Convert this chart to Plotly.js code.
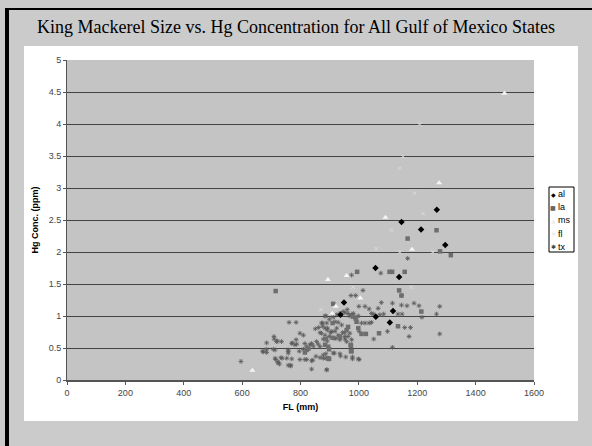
<!DOCTYPE html>
<html><head><meta charset="utf-8">
<script src="https://cdn.plot.ly/plotly-3.0.1.min.js"></script>
<style>body{margin:0;padding:0;background:#fff}#chart{width:592px;height:446px}</style>
</head><body><div id="chart"></div>
<script>
// ---- data (FL in mm, Hg in ppm) ----
const seriesNames = ["al", "la", "ms", "fl", "tx"];

const alFL = [1267, 1146, 1213, 1296, 1057, 1138, 949, 937, 1117, 1058, 1106];
const alHg = [2.66, 2.47, 2.35, 2.11, 1.75, 1.61, 1.21, 1.02, 1.08, 0.99, 0.90];

const laFL = [1266, 1167, 1278, 1315, 994, 1105, 1114, 1157, 1138, 1146, 715, 912, 1214, 980, 989, 992, 1134, 1009, 1024, 1069,
              821, 815, 827, 895, 898, 973, 973, 898, 935, 958, 963, 998, 910, 887, 910, 884, 972, 975, 895, 935];
const laHg = [2.34, 2.21, 2.01, 1.95, 1.69, 1.69, 1.69, 1.69, 1.40, 1.32, 1.39, 1.19, 1.07, 0.99, 0.96, 0.91, 0.84, 0.72, 0.72, 0.73,
              0.47, 0.43, 0.49, 0.52, 0.48, 0.53, 0.45, 0.33, 0.67, 0.78, 0.83, 0.81, 0.89, 0.64, 0.66, 0.55, 0.55, 0.45, 0.34, 0.68];

const msFL = [1499, 1275, 1091, 1182, 894, 958, 1005, 921, 909, 635];
const msHg = [4.48, 3.08, 2.54, 2.04, 1.57, 1.63, 1.28, 1.15, 1.04, 0.15];

const flFL = [1208, 1151, 1191, 1140, 1220, 1112, 1140, 1253, 1060, 980, 1180, 870];
const flHg = [4.00, 3.49, 2.92, 3.31, 2.60, 2.34, 2.00, 2.00, 2.05, 1.45, 1.45, 1.10];

const txFL = [1167, 1075, 975, 1014, 973, 989, 1146, 1000, 1021, 1077, 1115, 1146, 1165, 1189, 1206, 1035, 1066, 1043, 1051, 1072,
              1085, 1134, 1148, 884, 952, 963, 975, 1009, 1021, 1035, 1043, 1157, 1177, 1001, 1098, 1172, 1051, 1115, 1277, 1216,
              1266, 1277,
              761, 785, 887, 872, 862, 851, 798, 810, 709, 718, 735, 684, 785, 770, 787, 684, 673, 713, 758, 758,
              715, 724, 737, 753, 770, 596, 758, 767, 798, 815, 838, 838, 890, 887,
              876, 710, 721, 670, 684, 707, 758, 772, 781, 796, 810, 713, 733, 722, 728, 766, 821, 842, 853, 867,
              895, 815, 821, 832, 838, 844, 855, 861, 867, 872, 884, 892, 899, 907, 915, 924, 929, 935, 944, 952,
              958, 876, 899, 912, 924, 935, 946, 960, 969, 981, 986, 998, 916, 935, 955, 978, 998, 887,
              890, 884, 893, 918, 929, 941, 867, 903, 918, 952, 969, 921, 952, 963, 975, 878, 892, 878, 878, 912,
              937, 978, 1001, 890];
const txHg = [1.90, 1.67, 1.64, 1.40, 1.32, 1.32, 1.32, 1.15, 1.15, 1.21, 1.20, 1.17, 1.16, 1.20, 1.16, 1.11, 1.12, 1.04, 1.03, 1.02,
              1.03, 1.03, 1.03, 1.00, 1.05, 1.04, 1.02, 0.89, 0.89, 0.89, 0.90, 0.82, 0.82, 0.76, 0.76, 0.68, 0.64, 0.51, 1.15, 0.98,
              1.03, 0.72,
              0.90, 0.90, 1.00, 0.89, 0.82, 0.80, 0.73, 0.70, 0.68, 0.60, 0.60, 0.58, 0.63, 0.57, 0.56, 0.48, 0.44, 0.47, 0.45, 0.42,
              0.32, 0.28, 0.34, 0.34, 0.33, 0.29, 0.23, 0.23, 0.32, 0.32, 0.30, 0.17, 0.16, 0.34,
              0.84, 0.64, 0.61, 0.45, 0.43, 0.48, 0.47, 0.58, 0.55, 0.45, 0.48, 0.34, 0.35, 0.27, 0.25, 0.22, 0.32, 0.31, 0.37, 0.35,
              0.33, 0.57, 0.52, 0.55, 0.57, 0.53, 0.60, 0.56, 0.52, 0.73, 0.70, 0.78, 0.68, 0.76, 0.65, 0.81, 0.70, 0.63, 0.74, 0.68,
              0.60, 0.89, 0.95, 0.98, 1.02, 1.04, 1.07, 1.10, 1.00, 1.04, 0.98, 1.00, 0.42, 0.41, 0.36, 0.33, 0.33, 0.41,
              0.89, 0.81, 0.81, 0.91, 0.90, 0.86, 0.74, 0.74, 0.76, 0.74, 0.73, 0.65, 0.64, 0.68, 0.63, 0.64, 0.61, 0.39, 0.34, 0.42,
              0.375, 0.36, 0.32, 0.16];

const xTicks = [0, 200, 400, 600, 800, 1000, 1200, 1400, 1600];
const yTicks = [0, 0.5, 1, 1.5, 2, 2.5, 3, 3.5, 4, 4.5, 5];

// ---- layout helpers ----
const W = 592, H = 446, ML = 67, MR = 58, MT = 60, MB = 66;
const PW = W - ML - MR, PH = H - MT - MB;
const px = v => (v - ML) / PW;
const py = v => (H - MB - v) / PH;

const styles = {
  al: {symbol: "diamond", color: "#000000", size: 5, line: {width: 0}},
  la: {symbol: "square", color: "#6e6e6e", size: 4.5, line: {width: 0}},
  ms: {symbol: "triangle-up", color: "#f4f4f4", size: 5.5, line: {width: 0}},
  fl: {symbol: "x-thin-open", color: "#dcdcdc", size: 3.5, line: {width: 1, color: "#dcdcdc"}},
  tx: {symbol: "asterisk-open", color: "#5a5a5a", size: 4, line: {width: 0.8, color: "#5a5a5a"}}
};
const xs = {al: alFL, la: laFL, ms: msFL, fl: flFL, tx: txFL};
const ys = {al: alHg, la: laHg, ms: msHg, fl: flHg, tx: txHg};

const traces = ["tx", "fl", "la", "ms", "al"].map(n => ({
  type: "scatter", mode: "markers", name: n, x: xs[n], y: ys[n],
  marker: styles[n], showlegend: false, hoverinfo: "x+y"
}));

const shapes = [
  // outer grey frame
  {type: "rect", xref: "paper", yref: "paper", x0: px(0), x1: px(W), y0: py(0), y1: py(46), fillcolor: "#cbcbcb", line: {width: 0}, layer: "below"},
  {type: "rect", xref: "paper", yref: "paper", x0: px(0), x1: px(24), y0: py(46), y1: py(H), fillcolor: "#cbcbcb", line: {width: 0}, layer: "below"},
  {type: "rect", xref: "paper", yref: "paper", x0: px(578), x1: px(W), y0: py(46), y1: py(H), fillcolor: "#cbcbcb", line: {width: 0}, layer: "below"},
  {type: "rect", xref: "paper", yref: "paper", x0: px(24), x1: px(578), y0: py(421), y1: py(H), fillcolor: "#cbcbcb", line: {width: 0}, layer: "below"},
  // black border
  {type: "rect", xref: "paper", yref: "paper", x0: px(5), x1: px(9), y0: py(8), y1: py(H), fillcolor: "#000", line: {width: 0}, layer: "below"},
  {type: "rect", xref: "paper", yref: "paper", x0: px(5), x1: px(W), y0: py(8), y1: py(10), fillcolor: "#000", line: {width: 0}, layer: "below"},
  // legend box
  {type: "rect", xref: "paper", yref: "paper", x0: px(549), x1: px(574), y0: py(187), y1: py(252), fillcolor: "#ffffff", line: {width: 1, color: "#000"}, layer: "above"}
];

const legGlyph = {al: "◆", la: "■", ms: "▲", fl: "×", tx: "✱"};
const legColor = {al: "#000", la: "#666", ms: "#eeeeee", fl: "#d8d8d8", tx: "#444"};
const annotations = [];
seriesNames.forEach((n, i) => {
  const yc = 194 + i * 13.2;
  annotations.push({xref: "paper", yref: "paper", x: px(553), y: py(yc), text: legGlyph[n], showarrow: false,
    xanchor: "center", yanchor: "middle", font: {family: "DejaVu Sans", size: 6, color: legColor[n]}});
  annotations.push({xref: "paper", yref: "paper", x: px(555.5), y: py(yc), text: n, showarrow: false,
    xanchor: "left", yanchor: "middle", font: {family: "Liberation Sans, Arial", size: 9, color: "#000"}});
});

const layout = {
  width: W, height: H,
  margin: {l: ML, r: MR, t: MT, b: MB, pad: 0},
  paper_bgcolor: "#ffffff", plot_bgcolor: "#c4c4c4",
  title: {text: "King Mackerel Size vs. Hg Concentration for All Gulf of Mexico States",
    font: {family: "Liberation Serif, Times New Roman, serif", size: 18, color: "#000"},
    x: 0.5, xref: "container", y: 1 - 27 / H, yref: "container", xanchor: "center", yanchor: "middle"},
  xaxis: {range: [0, 1600], tickvals: xTicks, ticktext: xTicks.map(String), showgrid: false, zeroline: false,
    showline: true, linecolor: "#555", linewidth: 2, ticks: "outside", ticklen: 3, tickcolor: "#555",
    tickfont: {family: "Liberation Sans, Arial", size: 9, color: "#444"},
    title: {text: "<b>FL (mm)</b>", font: {family: "Liberation Sans, Arial", size: 9, color: "#000"}, standoff: 7},
    fixedrange: true},
  yaxis: {range: [0, 5], tickvals: yTicks, ticktext: yTicks.map(String), showgrid: true, gridcolor: "#444", gridwidth: 1,
    zeroline: false, showline: true, linecolor: "#555", linewidth: 1, ticks: "outside", ticklen: 3, tickcolor: "#555",
    tickfont: {family: "Liberation Sans, Arial", size: 9, color: "#444"},
    title: {text: "<b>Hg Conc. (ppm)</b>", font: {family: "Liberation Sans, Arial", size: 9, color: "#000"}, standoff: 8},
    fixedrange: true},
  shapes: shapes,
  annotations: annotations,
  showlegend: false
};

Plotly.newPlot("chart", traces, layout, {displayModeBar: false, staticPlot: true});
</script>
</body></html>
